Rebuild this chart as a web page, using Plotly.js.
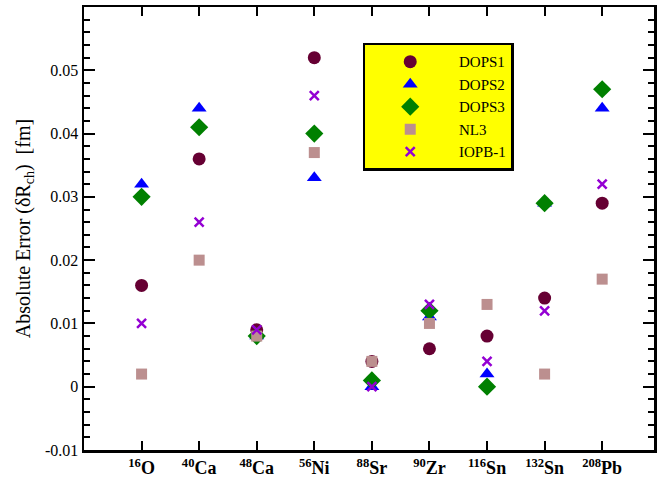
<!DOCTYPE html>
<html>
<head>
<meta charset="utf-8">
<script src="https://cdn.plot.ly/plotly-3.0.1.min.js"></script>
<style>html,body{margin:0;padding:0;background:#fff;}#chart{width:657px;height:478px;}</style>
</head>
<body>
<div id="chart"></div>
<script>
const nuclei = ["16O","40Ca","48Ca","56Ni","88Sr","90Zr","116Sn","132Sn","208Pb"];
const tickLabels = ["<sup>16</sup>O","<sup>40</sup>Ca","<sup>48</sup>Ca","<sup>56</sup>Ni","<sup>88</sup>Sr","<sup>90</sup>Zr","<sup>116</sup>Sn","<sup>132</sup>Sn","<sup>208</sup>Pb"];
const dops1 = [0.016, 0.036, 0.009, 0.052, 0.004, 0.006, 0.008, 0.014, 0.029];
const dops2 = [0.032, 0.044, 0.008, 0.033, 0.000, 0.011, 0.002, 0.029, 0.044];
const dops3 = [0.030, 0.041, 0.008, 0.040, 0.001, 0.012, 0.000, 0.029, 0.047];
const nl3   = [0.002, 0.020, 0.008, 0.037, 0.004, 0.010, 0.013, 0.002, 0.017];
const iopb1 = [0.010, 0.026, 0.009, 0.046, 0.000, 0.013, 0.004, 0.012, 0.032];
const seriesNames = ["DOPS1","DOPS2","DOPS3","NL3","IOPB-1"];

const font = "Liberation Serif, Times New Roman, serif";
function tr(name, y, symbol, size, color, lineW){
  return {
    type:"scatter", mode:"markers", name:"\u00a0" + name, x:nuclei, y:y,
    legendgroup:name,
    marker:{symbol:symbol, size:size, color:color, line:{width:lineW||0, color:color}}
  };
}
const data = [
  tr(seriesNames[0], dops1, "circle", 13, "#660033"),
  tr(seriesNames[1], dops2, "triangle-up", 13, "#0000ff"),
  tr(seriesNames[2], dops3, "diamond", 14, "#008000"),
  tr(seriesNames[3], nl3, "square", 11, "#bc8f8f"),
  tr(seriesNames[4], iopb1, "x-thin-open", 9, "#9400d3", 2.5)
];
const layout = {
  width:657, height:478,
  margin:{l:84, r:3, t:7, b:28},
  paper_bgcolor:"#fff", plot_bgcolor:"#fff",
  font:{family:font, color:"#000"},
  showlegend:true,
  legend:{
    x:0.489, y:0.919, xanchor:"left", yanchor:"top",
    bgcolor:"#ffff00", bordercolor:"#000", borderwidth:2.5,
    font:{family:font, size:15, color:"#000"},
    itemwidth:80, tracegroupgap:0
  },
  xaxis:{
    type:"category", categoryorder:"array", categoryarray:nuclei,
    range:[-1, 8.9],
    tickvals:nuclei, ticktext:tickLabels,
    ticks:"inside", ticklen:9, tickwidth:2, tickcolor:"#000",
    showline:true, linewidth:2.5, linecolor:"#000", mirror:"ticks",
    showgrid:false, zeroline:false,
    tickfont:{family:font, size:18, color:"#000", weight:"bold"},
    ticklabelstandoff:0
  },
  yaxis:{
    range:[-0.01, 0.06],
    tickvals:[-0.01,0,0.01,0.02,0.03,0.04,0.05],
    ticktext:["-0.01","0","0.01","0.02","0.03","0.04","0.05"],
    ticks:"inside", ticklen:11, tickwidth:2, tickcolor:"#000",
    minor:{dtick:0.002, ticks:"inside", ticklen:6, tickwidth:2, tickcolor:"#000"},
    showline:true, linewidth:2.5, linecolor:"#000", mirror:"ticks",
    showgrid:false, zeroline:false,
    tickfont:{family:font, size:16, color:"#000"},
    title:{text:"Absolute Error (\u03b4R<sub>ch</sub>)  [fm]", font:{family:font, size:20, color:"#000"}, standoff:9}
  }
};
Plotly.newPlot("chart", data, layout, {displayModeBar:false, staticPlot:true});
</script>
</body>
</html>
